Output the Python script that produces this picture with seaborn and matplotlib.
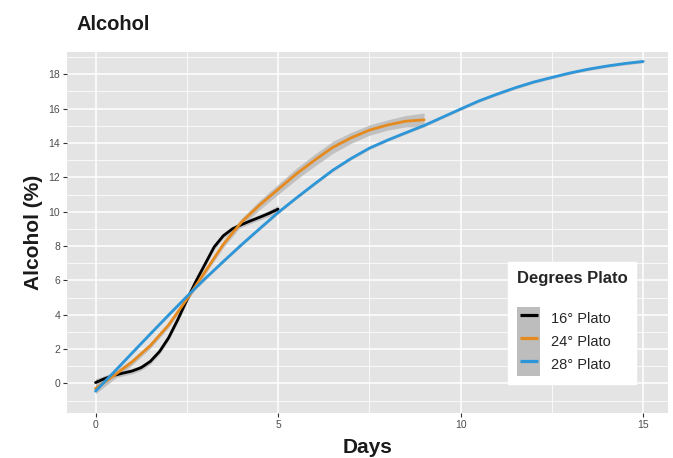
import numpy as np
import pandas as pd
import matplotlib
matplotlib.use("Agg")
import matplotlib.pyplot as plt
import seaborn as sns
from matplotlib.lines import Line2D
from matplotlib.patches import Patch
from matplotlib.legend_handler import HandlerTuple

# ---- data ----
days_16 = [0, 0.25, 0.5, 0.75, 1.0, 1.25, 1.5, 1.75, 2.0, 2.25, 2.5, 2.75,
           3.0, 3.25, 3.5, 3.75, 4.0, 4.25, 4.5, 4.75, 5.0]
alc_16 = [0.05, 0.28, 0.47, 0.6, 0.72, 0.92, 1.28, 1.85, 2.65, 3.7, 4.85, 5.95,
          6.95, 7.95, 8.6, 9.0, 9.25, 9.47, 9.68, 9.9, 10.15]
band_16 = [0.22, 0.18, 0.16, 0.16, 0.16, 0.16, 0.16, 0.16, 0.16, 0.16, 0.16, 0.16,
           0.16, 0.16, 0.16, 0.16, 0.16, 0.16, 0.16, 0.18, 0.22]

days_24 = [0, 0.5, 1.0, 1.5, 2.0, 2.5, 3.0, 3.5, 4.0, 4.5, 5.0, 5.5, 6.0,
           6.5, 7.0, 7.5, 8.0, 8.5, 9.0]
alc_24 = [-0.3, 0.45, 1.25, 2.2, 3.4, 4.9, 6.5, 8.1, 9.4, 10.4, 11.3,
          12.2, 13.0, 13.75, 14.3, 14.75, 15.05, 15.27, 15.35]
band_24 = [0.3, 0.22, 0.18, 0.16, 0.15, 0.15, 0.16, 0.18, 0.22, 0.27, 0.3,
           0.33, 0.35, 0.35, 0.32, 0.3, 0.3, 0.33, 0.4]

days_28 = [0, 0.5, 1.0, 1.5, 2.0, 2.5, 3.0, 3.5, 4.0, 4.5, 5.0, 5.5, 6.0, 6.5,
           7.0, 7.5, 8.0, 8.5, 9.0, 9.5, 10.0, 10.5, 11.0, 11.5, 12.0, 12.5,
           13.0, 13.5, 14.0, 14.5, 15.0]
alc_28 = [-0.45, 0.65, 1.77, 2.88, 3.98, 5.06, 6.1, 7.1, 8.08, 9.02, 9.95, 10.8,
          11.62, 12.42, 13.1, 13.7, 14.17, 14.6, 15.02, 15.5, 15.98, 16.45,
          16.85, 17.22, 17.55, 17.82, 18.08, 18.3, 18.48, 18.63, 18.75]
band_28 = [0.08] * len(days_28)

series_names = ["16° Plato", "24° Plato", "28° Plato"]
series_colors = ["#000000", "#E58A1F", "#2D96D9"]

x_ticks = [0, 5, 10, 15]
y_ticks = [0, 2, 4, 6, 8, 10, 12, 14, 16, 18]

# ---- build long table ----
frames = []
for name, d, a, b in zip(series_names, [days_16, days_24, days_28],
                         [alc_16, alc_24, alc_28], [band_16, band_24, band_28]):
    frames.append(pd.DataFrame({"Days": d, "Alcohol": a, "band": b, "Series": name}))
df = pd.concat(frames, ignore_index=True)

sns.set_theme(style="darkgrid")
plt.rcParams["font.family"] = ["Liberation Sans Narrow", "Liberation Sans", "DejaVu Sans"]

fig = plt.figure(figsize=(6.73, 4.58), dpi=100)
ax = fig.add_axes([0.0996, 0.0983, 0.8930, 0.7882])
ax.set_facecolor("#E4E4E4")

pal = dict(zip(series_names, series_colors))
for name in series_names:
    sub = df[df["Series"] == name]
    ax.fill_between(sub["Days"], sub["Alcohol"] - sub["band"], sub["Alcohol"] + sub["band"],
                    color="#BDBDBD", alpha=0.9, linewidth=0, zorder=2)
    sns.lineplot(data=sub, x="Days", y="Alcohol", color=pal[name], linewidth=2.0,
                 ax=ax, zorder=3, errorbar=None, legend=False)

ax.set_xlim(-0.78, 15.68)
ax.set_ylim(-1.72, 19.3)
ax.set_xticks(x_ticks)
ax.set_xticklabels([str(t) for t in x_ticks])
ax.set_yticks(y_ticks)
ax.set_yticklabels([str(t) for t in y_ticks])
ax.set_xticks([2.5, 7.5, 12.5], minor=True)
ax.set_yticks([-1, 1, 3, 5, 7, 9, 11, 13, 15, 17, 19], minor=True)
ax.grid(which="major", color="white", linewidth=1.1)
ax.grid(which="minor", color="white", linewidth=0.55)
ax.set_axisbelow(True)
for s in ax.spines.values():
    s.set_visible(False)
ax.tick_params(axis="both", which="major", length=3, width=0.8, color="#333333",
               labelsize=7.5, labelcolor="#4D4D4D", pad=2, direction="out")
ax.tick_params(axis="both", which="minor", length=0)
ax.tick_params(bottom=True, left=True)

ax.set_xlabel("Days", fontsize=15, fontweight="bold", color="#1A1A1A", labelpad=6)
ax.set_ylabel("Alcohol (%)", fontsize=15, fontweight="bold", color="#1A1A1A", labelpad=4)
fig.text(0.114, 0.946, "Alcohol", fontsize=14.5, fontweight="bold", color="#1A1A1A",
         ha="left", va="center")

handles = [(Patch(facecolor="#BDBDBD", edgecolor="none"),
            Line2D([0], [0], color=c, linestyle="none", marker="_",
                   markersize=13, markeredgewidth=2.3)) for c in series_colors]
leg = ax.legend(handles, series_names, title="Degrees Plato",
                handler_map={tuple: HandlerTuple(ndivide=1, pad=0)},
                loc="upper left", bbox_to_anchor=(0.734, 0.418), borderaxespad=0,
                frameon=True, fancybox=False, framealpha=1, edgecolor="white",
                facecolor="white", fontsize=10.5,
                title_fontproperties={"weight": "bold", "size": 12},
                handlelength=1.6, handleheight=2.05, labelspacing=0.0, handletextpad=0.75,
                borderpad=0.6)
leg._legend_box.align = "left"
leg._legend_box.sep = 15
leg.set_zorder(5)

fig.savefig("out.png", dpi=100)
